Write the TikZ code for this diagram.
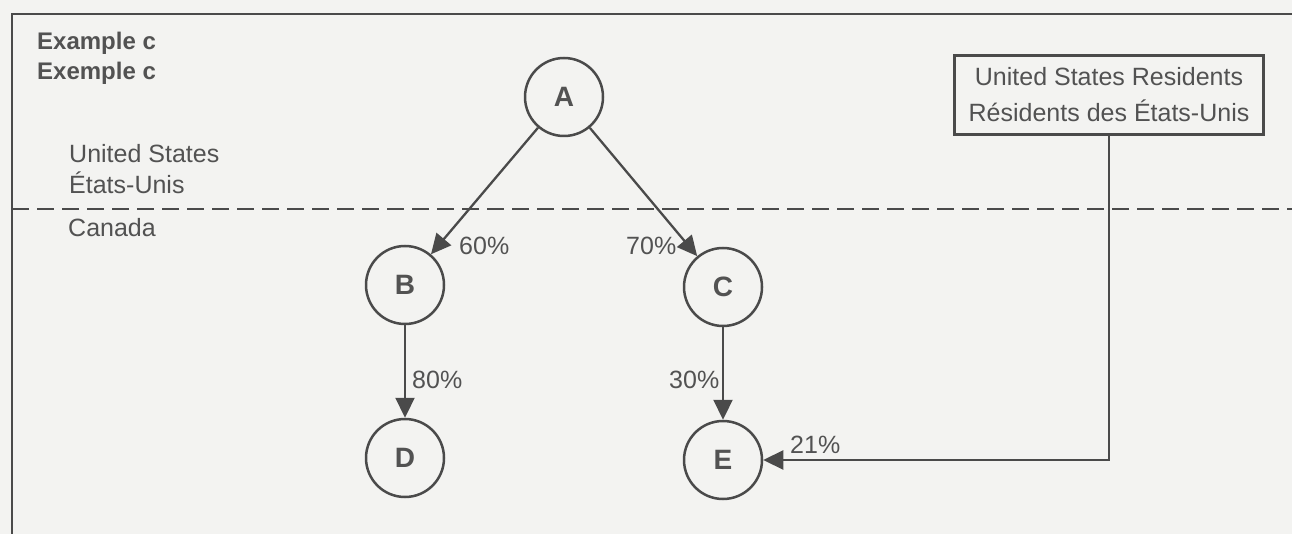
\documentclass[tikz,border=0pt]{standalone}
\usepackage{fontspec}
\setmainfont{Liberation Sans}
\usetikzlibrary{arrows.meta}
\definecolor{bg}{HTML}{F3F3F1}
\definecolor{lc}{HTML}{4A4A4A}
\definecolor{tc}{HTML}{525252}
\begin{document}
\begin{tikzpicture}[x=1pt,y=-1pt,
  font=\fontsize{25}{36}\selectfont,
  ln/.style={draw=lc, line width=2.3pt},
  circ/.style={circle, draw=lc, line width=2.5pt, minimum size=78pt, inner sep=0pt, font=\fontsize{28}{30}\selectfont\bfseries, text=tc},
  arr/.style={ln, -{Triangle[length=20pt,width=19pt]}},
  lbl/.style={text=tc, inner sep=0pt, anchor=base west},
  resbox/.style={draw=lc, line width=2.3pt, minimum width=309pt, minimum height=79pt, align=center, text=tc, inner sep=0pt}]
\fill[bg] (0,0) rectangle (1292,534);
\useasboundingbox (0,0) rectangle (1292,534);
% frame
\draw[ln] (12,540) -- (12,14) -- (1300,14);
% border line
\draw[lc, line width=2pt, dash pattern=on 17pt off 8pt] (12,209) -- (1300,209);
% texts
\node[lbl, font=\fontsize{24}{30}\selectfont\bfseries] (t1) at (37,50) {Example c};
\node[lbl, font=\fontsize{24}{30}\selectfont\bfseries] (t2) at (37,80) {Exemple c};
\node[lbl] (t3) at (69,163) {United States};
\node[lbl] (t4) at (69,194) {États-Unis};
\node[lbl] (t5) at (68,237) {Canada};
% nodes
\node[circ] (A) at (564,97) {A};
\node[circ] (B) at (405,285) {B};
\node[circ] (C) at (723,287) {C};
\node[circ] (D) at (405,458) {D};
\node[circ] (E) at (723,460) {E};
\node[resbox] (R) at (1109,95) {United States Residents\\Résidents des États-Unis};
% connectors
\draw[arr] (A) -- (B);
\draw[arr] (A) -- (C);
\draw[arr] (B) -- (D);
\draw[arr] (C) -- (E);
\draw[arr] (R.south) |- (E);
% labels
\node[lbl] (p60) at (459,255) {60\%};
\node[lbl] (p70) at (626,255) {70\%};
\node[lbl] (p80) at (412,388) {80\%};
\node[lbl] (p30) at (669,388) {30\%};
\node[lbl] (p21) at (790,453) {21\%};
\end{tikzpicture}
\end{document}
